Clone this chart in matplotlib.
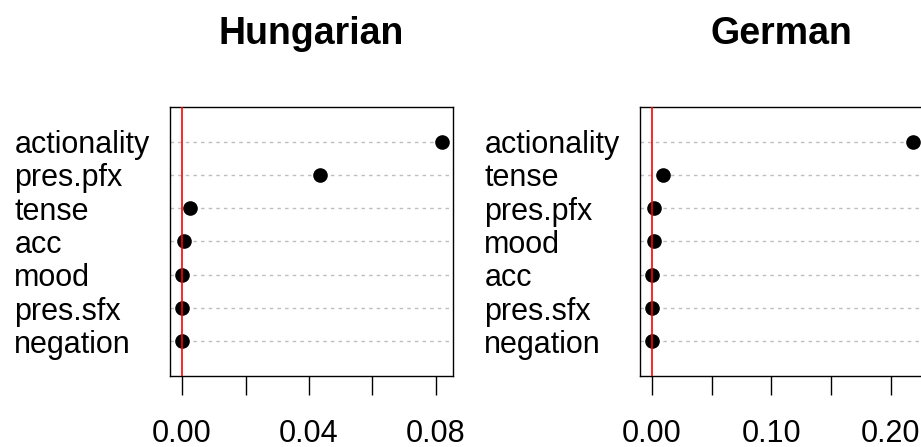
import matplotlib
matplotlib.use("Agg")
import matplotlib.pyplot as plt

# rows listed top to bottom, as in the dotcharts
hu_labels = ["actionality", "pres.pfx", "tense", "acc", "mood", "pres.sfx", "negation"]
hu_values = [0.0819, 0.0435, 0.0025, 0.0006, 0.0, 0.0, 0.0]

de_labels = ["actionality", "tense", "pres.pfx", "mood", "acc", "pres.sfx", "negation"]
de_values = [0.2184, 0.0092, 0.0017, 0.0017, 0.0003, 0.0, 0.0]

hu_ticks = [0.0, 0.02, 0.04, 0.06, 0.08]
hu_ticklabels = ["0.00", "", "0.04", "", "0.08"]
de_ticks = [0.0, 0.05, 0.10, 0.15, 0.20]
de_ticklabels = ["0.00", "", "0.10", "", "0.20"]

plt.rcParams['font.family'] = ['Liberation Sans', 'DejaVu Sans']

W, H = 921, 447
fig = plt.figure(figsize=(W / 100, H / 100), dpi=100)


def dotchart(ax, title, labels, values, ticks, ticklabels, xlim):
    n = len(labels)
    ys = [n - i for i in range(n)]
    for y in ys:
        ax.axhline(y, color="#bebebe", lw=1.0, linestyle=(0, (2.5, 3)), zorder=1)
    ax.plot(values, ys, "o", color="black", markersize=9.5, zorder=2)
    ax.axvline(0, color="red", lw=1.2, zorder=3)
    ax.set_xlim(*xlim)
    ax.set_ylim(-0.04, n + 1.04)
    ax.set_yticks(ys)
    ax.set_yticklabels(labels, fontsize=22, ha="left")
    ax.tick_params(axis="y", length=0, pad=112)
    ax.set_xticks(ticks)
    ax.set_xticklabels(ticklabels, fontsize=22)
    ax.tick_params(axis="x", length=13.5, width=1.0, pad=17.5)
    for s in ax.spines.values():
        s.set_linewidth(1.0)
    ax.set_title(title, fontsize=27, fontweight="bold", pad=45)


ax1 = fig.add_axes([170 / W, 71 / H, 283 / W, 269 / H])
dotchart(ax1, "Hungarian", hu_labels, hu_values, hu_ticks, hu_ticklabels, (-0.0038, 0.0854))

ax2 = fig.add_axes([640 / W, 71 / H, 283.5 / W, 269 / H])
dotchart(ax2, "German", de_labels, de_values, de_ticks, de_ticklabels, (-0.0100, 0.2272))

fig.savefig("out.png", dpi=100)
